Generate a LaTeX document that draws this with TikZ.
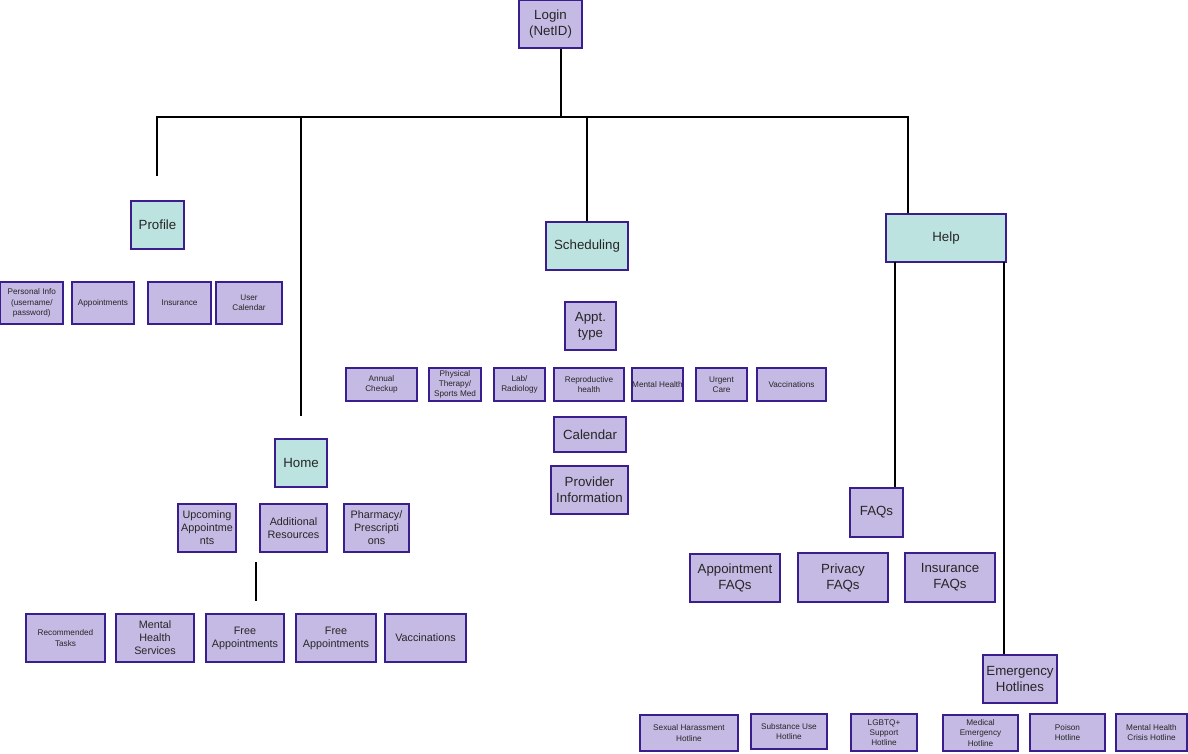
\documentclass[tikz,border=0pt]{standalone}
\usepackage{fontspec}
\setmainfont{Liberation Sans}
\definecolor{lav}{HTML}{C5BAE3}
\definecolor{teal}{HTML}{BCE3E0}
\definecolor{bord}{HTML}{3B1E8E}
\newcommand{\mybox}[7][box]{%
  \node[#1, minimum width={(#5)-(#3)}, minimum height={(#6)-(#4)}] (#2) at ({((#3)+(#5))/2},{((#4)+(#6))/2}) {#7};}
\tikzset{
  box/.style={draw=bord, fill=lav, line width=1.2pt, align=center, inner sep=0pt, text=black!85},
  top/.style={box, fill=teal},
  conn/.style={draw=black, line width=1.1pt},
  fa/.style={font=\fontsize{8.2}{10.2}\selectfont},
  fb/.style={font=\fontsize{10.8}{13}\selectfont},
  fc/.style={font=\fontsize{13.3}{16}\selectfont},
}
\begin{document}
\begin{tikzpicture}[x=1pt,y=-1pt]
\useasboundingbox (0,0) rectangle (1188,753);
% top
\mybox[box,fc]{login}{519}{0.6}{582}{48}{Login\\(NetID)}
\mybox[top,fc]{profile}{131}{201}{184}{249}{Profile}
\mybox[top,fc]{home}{275}{439}{327}{487}{Home}
\mybox[top,fc]{sched}{546}{222}{628}{270}{Scheduling}
\mybox[top,fc]{help}{886}{214}{1006}{262}{Help}
% tree connectors
\coordinate (hub) at (561,117);
\coordinate (pl) at (157,117);
\coordinate (pe) at (157,176);
\coordinate (hl) at (301,117);
\coordinate (he) at (301,416);
\coordinate (sl) at (587,117);
\coordinate (el) at (908,117);
\draw[conn] (login.south -| hub) -- (hub);
\draw[conn] (pe) -- (pl) -- (el) -- (el |- help.north);
\draw[conn] (hl) -- (he);
\draw[conn] (sl) -- (sl |- sched.north);
% profile children
\mybox[box,fa]{pinfo}{0.6}{282}{63}{324}{Personal Info\\(username/\\password)}
\mybox[box,fa]{pappt}{72}{282}{134}{324}{Appointments}
\mybox[box,fa]{pins}{148}{282}{211}{324}{Insurance}
\mybox[box,fa]{pcal}{216}{282}{282}{324}{User\\Calendar}
% scheduling children
\mybox[box,fc]{appt}{565}{302}{616}{350}{Appt.\\type}
\mybox[box,fa]{annual}{346}{368}{417}{401}{Annual\\Checkup}
\mybox[box,fa]{phys}{429}{368}{481}{401}{Physical\\Therapy/\\Sports Med}
\mybox[box,fa]{lab}{494}{368}{545}{401}{Lab/\\Radiology}
\mybox[box,fa]{repro}{554}{368}{624}{401}{Reproductive\\health}
\mybox[box,fa]{mhs}{632}{368}{683}{401}{Mental Health}
\mybox[box,fa]{urgent}{696}{368}{747}{401}{Urgent\\Care}
\mybox[box,fa]{svacc}{757}{368}{826}{401}{Vaccinations}
\mybox[box,fc]{cal}{554}{417}{626}{452}{Calendar}
\mybox[box,fc]{prov}{551}{466}{628}{514}{Provider\\Information}
% home children
\mybox[box,fb]{upc}{178}{504}{236}{552}{Upcoming\\Appointme\\nts}
\mybox[box,fb]{addl}{260}{504}{327}{552}{Additional\\Resources}
\mybox[box,fb]{pharm}{344}{504}{409}{552}{Pharmacy/\\Prescripti\\ons}
\coordinate (ha) at (256,562);
\coordinate (hb) at (256,601);
\draw[conn] (ha) -- (hb);
\mybox[box,fa]{rec}{26}{614}{105}{662}{Recommended\\Tasks}
\mybox[box,fb]{mhserv}{116}{614}{194}{662}{Mental\\Health\\Services}
\mybox[box,fb]{free1}{206}{614}{284}{662}{Free\\Appointments}
\mybox[box,fb]{free2}{296}{614}{376}{662}{Free\\Appointments}
\mybox[box,fb]{hvacc}{385}{614}{466}{662}{Vaccinations}
% help children
\mybox[box,fc]{faqs}{850}{488}{903}{537}{FAQs}
\mybox[box,fc]{emerg}{983}{655}{1057}{703}{Emergency\\Hotlines}
\coordinate (fx) at (895,262);
\coordinate (ex) at (1004,262);
\draw[conn] (fx) -- (fx |- faqs.north);
\draw[conn] (ex) -- (ex |- emerg.north);
\mybox[box,fc]{afaq}{690}{554}{780}{602}{Appointment\\FAQs}
\mybox[box,fc]{pfaq}{798}{553}{888}{602}{Privacy\\FAQs}
\mybox[box,fc]{ifaq}{905}{553}{995}{602}{Insurance\\FAQs}
% hotlines
\mybox[box,fa]{sex}{640}{715}{738}{751}{Sexual Harassment\\Hotline}
\mybox[box,fa]{subst}{751}{714}{827}{749}{Substance Use\\Hotline}
\mybox[box,fa]{lgbt}{851}{714}{917}{751}{LGBTQ+\\Support\\Hotline}
\mybox[box,fa]{med}{943}{715}{1018}{751}{Medical\\Emergency\\Hotline}
\mybox[box,fa]{poison}{1030}{714}{1105}{751}{Poison\\Hotline}
\mybox[box,fa]{crisis}{1116}{714}{1187}{751}{Mental Health\\Crisis Hotline}
\end{tikzpicture}
\end{document}
